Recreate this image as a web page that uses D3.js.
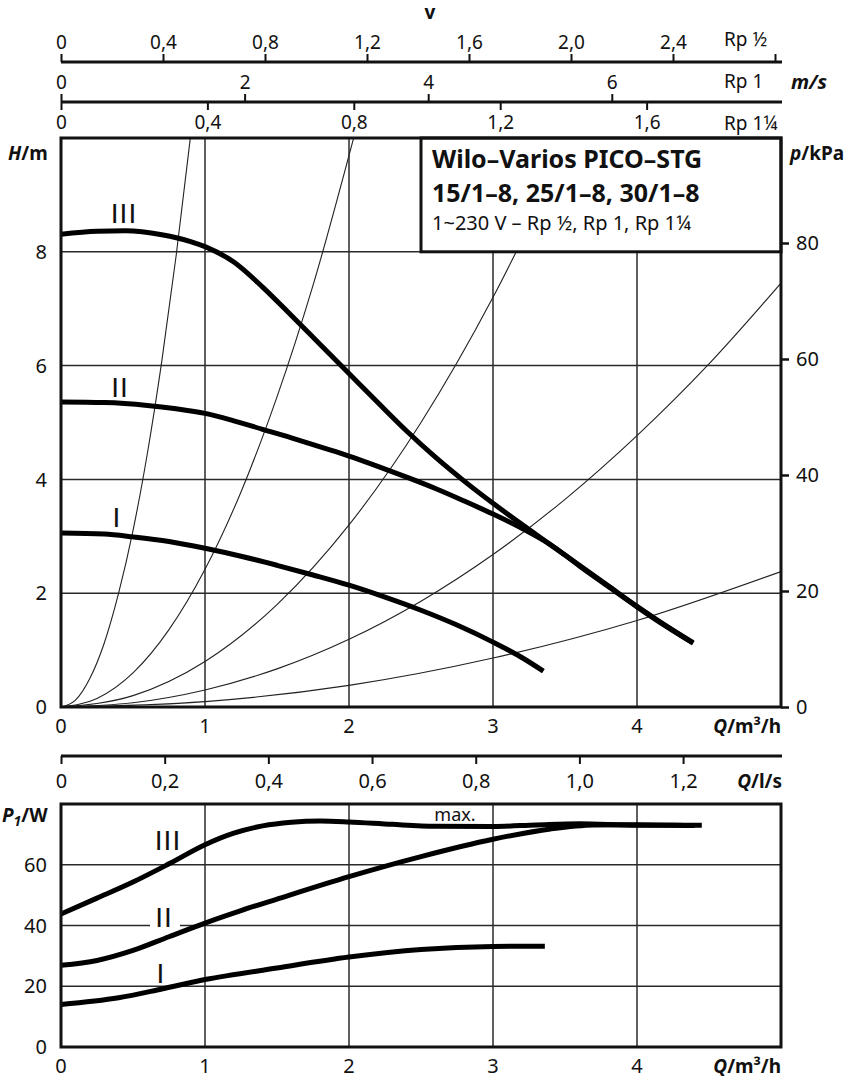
<!DOCTYPE html>
<html>
<head>
<meta charset="utf-8">
<script src="https://cdnjs.cloudflare.com/ajax/libs/d3/7.8.5/d3.min.js"></script>
<style>
  html, body { margin: 0; padding: 0; background: #fff; }
  svg { display: block; font-family: "Noto Sans", "Open Sans", sans-serif; }
</style>
</head>
<body>
<svg id="chart" width="851" height="1080"></svg>
<script>
// =========================================
// Data
// =========================================
const qTicks = [0, 1, 2, 3, 4];                 // Q in m³/h
const headTicks = [0, 2, 4, 6, 8];              // H in m
const kpaTicks = [0, 20, 40, 60, 80];           // p in kPa
const powerTicks = [0, 20, 40, 60];             // P1 in W
const qLsTicks = [0, 0.2, 0.4, 0.6, 0.8, 1.0, 1.2];
const vRpHalfTicks = [0, 0.4, 0.8, 1.2, 1.6, 2.0, 2.4, 2.8];
const vRpHalfLabels = [0, 0.4, 0.8, 1.2, 1.6, 2.0, 2.4];
const vRp1Ticks = [0, 2, 4, 6];
const vRp114Ticks = [0, 0.4, 0.8, 1.2, 1.6];

// pump head curves [Q, H]
const headIII = [[0, 8.31], [0.25, 8.36], [0.45, 8.37], [0.7, 8.30], [0.9, 8.18], [1.0, 8.09],
  [1.2, 7.82], [1.4, 7.38], [1.6, 6.88], [1.8, 6.37], [2.0, 5.86], [2.2, 5.35], [2.4, 4.85],
  [2.6, 4.39], [2.8, 3.97], [3.0, 3.58], [3.2, 3.21], [3.4, 2.85], [3.6, 2.49], [3.8, 2.13],
  [4.0, 1.77], [4.2, 1.43], [4.39, 1.13]];
const headII = [[0, 5.36], [0.3, 5.35], [0.6, 5.30], [0.8, 5.24], [1.0, 5.16], [1.2, 5.03],
  [1.4, 4.88], [1.6, 4.73], [1.8, 4.57], [2.0, 4.41], [2.2, 4.23], [2.4, 4.04], [2.6, 3.84],
  [2.8, 3.62], [3.0, 3.39], [3.2, 3.14], [3.4, 2.85], [3.5, 2.67], [3.6, 2.48], [3.8, 2.12],
  [4.0, 1.76], [4.2, 1.42], [4.39, 1.12]];
const headI = [[0, 3.06], [0.3, 3.04], [0.5, 2.99], [0.75, 2.91], [1.0, 2.79], [1.25, 2.65],
  [1.5, 2.49], [1.75, 2.32], [2.0, 2.14], [2.25, 1.93], [2.5, 1.70], [2.75, 1.44], [3.0, 1.14],
  [3.2, 0.87], [3.35, 0.63]];

// system (pipe) curves [Q, H]
const systemA = [[0, 0], [0.1, 0.12], [0.2, 0.5], [0.3, 1.12], [0.4, 2.0], [0.5, 3.1],
  [0.6, 4.46], [0.7, 6.08], [0.8, 7.94], [0.9, 10.04]];
const systemB = [[0, 0], [0.25, 0.15], [0.5, 0.6], [0.75, 1.36], [1.0, 2.42], [1.25, 3.78],
  [1.5, 5.45], [1.75, 7.41], [2.05, 10.17]];
const systemC = [[0, 0], [0.5, 0.2], [1.0, 0.8], [1.5, 1.8], [2.0, 3.2], [2.5, 5.0],
  [3.0, 7.2], [3.3, 8.71]];
const systemD = [[0, 0], [0.5, 0.075], [1.0, 0.3], [1.5, 0.67], [2.0, 1.19], [2.5, 1.86],
  [3.0, 2.68], [3.5, 3.65], [4.0, 4.77], [4.5, 6.03], [5.0, 7.45]];
const systemE = [[0, 0], [1.0, 0.095], [2.0, 0.38], [3.0, 0.86], [4.0, 1.52], [5.0, 2.38]];

// power curves [Q, P1]
const powerIII = [[0, 43.8], [0.25, 49.0], [0.5, 54.3], [0.75, 60.3], [1.0, 66.6], [1.2, 70.4],
  [1.4, 72.8], [1.6, 74.0], [1.8, 74.4], [2.0, 74.1], [2.3, 73.3], [2.6, 72.7], [3.0, 72.6],
  [3.3, 73.1], [3.6, 73.5], [4.0, 73.0], [4.45, 73.0]];
const powerII = [[0, 26.9], [0.25, 28.5], [0.5, 31.8], [0.75, 36.3], [1.0, 40.8], [1.25, 44.9],
  [1.5, 48.7], [2.0, 56.1], [2.5, 62.7], [3.0, 68.4], [3.4, 71.8], [3.7, 73.1], [4.0, 73.2], [4.4, 72.9]];
const powerI = [[0, 14.0], [0.4, 16.2], [0.7, 19.1], [1.0, 22.2], [1.5, 26.0], [2.0, 29.6],
  [2.5, 32.1], [3.0, 33.1], [3.36, 33.2]];

const titleLines = ['Wilo–Varios PICO–STG', '15/1–8, 25/1–8, 30/1–8', '1~230 V – Rp ½, Rp 1, Rp 1¼'];

// =========================================
// Layout
// =========================================
const left = 61, right = 781;
const headTop = 138, headBottom = 707;
const powerTop = 804, powerBottom = 1047;
const ink = '#111';
const gridInk = '#2a2a2a';

const svg = d3.select('#chart');

const x = d3.scaleLinear().domain([0, 5]).range([left, right]);
const yH = d3.scaleLinear().domain([0, 10]).range([headBottom, headTop]);
const yKpa = d3.scaleLinear().domain([0, 98.1]).range([headBottom, headTop]);
const yP = d3.scaleLinear().domain([0, 80]).range([powerBottom, powerTop]);
const xLs = d3.scaleLinear().domain([0, 5 / 3.6]).range([left, right]);
const xRpHalf = d3.scaleLinear().domain([0, 720 / 255]).range([left, right]);
const xRp1 = d3.scaleLinear().domain([0, 720 / 91.8]).range([left, right]);
const xRp114 = d3.scaleLinear().domain([0, 720 / 366]).range([left, right]);

const comma = d3.formatLocale({ decimal: ',', thousands: '.', grouping: [3], currency: ['', ''] }).format('.1f');
const fmtDec = d => d === 0 ? '0' : comma(d);

// -----------------------------------------
// velocity axes at the top
// -----------------------------------------
svg.append('text').attr('x', 430).attr('y', 19).attr('text-anchor', 'middle')
  .style('font-size', '19px').style('font-weight', '700').attr('fill', ink).text('v');

const styleAxis = (g, size) => {
  g.select('.domain').attr('stroke', ink).attr('stroke-width', 3);
  g.selectAll('.tick line').attr('stroke', ink).attr('stroke-width', 2);
  g.selectAll('.tick text').attr('fill', ink).style('font-size', size)
    .style('font-family', '"Noto Sans", sans-serif');
};

const axHalf = svg.append('g').attr('transform', 'translate(0,62)')
  .call(d3.axisTop(xRpHalf).tickValues(vRpHalfTicks).tickSize(8).tickSizeOuter(0).tickPadding(5)
    .tickFormat(d => vRpHalfLabels.includes(d) ? fmtDec(d) : ''));
styleAxis(axHalf, '19px');
axHalf.select('.domain').attr('d', `M${left},0H${right + 1}`);

const axRp1 = svg.append('g').attr('transform', 'translate(0,102)')
  .call(d3.axisTop(xRp1).tickValues(vRp1Ticks).tickSize(8).tickSizeOuter(0).tickPadding(5)
    .tickFormat(d3.format('d')));
styleAxis(axRp1, '19px');
axRp1.select('.domain').attr('d', `M${left},0H${right + 1}`);

const axRp114 = svg.append('g').attr('transform', 'translate(0,102)')
  .call(d3.axisBottom(xRp114).tickValues(vRp114Ticks).tickSize(8).tickSizeOuter(0).tickPadding(6)
    .tickFormat(fmtDec));
styleAxis(axRp114, '19px');
axRp114.select('.domain').remove();

const rpLabels = [['Rp ½', 46], ['Rp 1', 88], ['Rp 1¼', 130]];
svg.selectAll('.rp-label').data(rpLabels).enter().append('text')
  .attr('class', 'rp-label').attr('x', 724).attr('y', d => d[1])
  .style('font-size', '19px').attr('fill', ink).text(d => d[0]);

svg.append('text').attr('x', 791).attr('y', 89)
  .style('font-size', '20px').style('font-weight', '700').style('font-style', 'italic')
  .attr('fill', ink).text('m/s');

// -----------------------------------------
// head chart
// -----------------------------------------
svg.append('clipPath').attr('id', 'headClip').append('rect')
  .attr('x', left).attr('y', headTop).attr('width', right - left).attr('height', headBottom - headTop);

svg.append('g').selectAll('line').data(qTicks.slice(1)).enter().append('line')
  .attr('x1', d => x(d)).attr('x2', d => x(d)).attr('y1', headTop).attr('y2', headBottom)
  .attr('stroke', gridInk).attr('stroke-width', 1.5);
svg.append('g').selectAll('line').data(headTicks.slice(1)).enter().append('line')
  .attr('x1', left).attr('x2', right).attr('y1', d => yH(d)).attr('y2', d => yH(d))
  .attr('stroke', gridInk).attr('stroke-width', 1.5);

const headLine = d3.line().x(d => x(d[0])).y(d => yH(d[1])).curve(d3.curveMonotoneX);

svg.append('g').attr('clip-path', 'url(#headClip)')
  .selectAll('path').data([systemA, systemB, systemC, systemD, systemE]).enter().append('path')
  .attr('d', headLine).attr('fill', 'none').attr('stroke', '#222').attr('stroke-width', 1.1);

// title box
svg.append('rect').attr('x', 421).attr('y', headTop).attr('width', right - 421).attr('height', yH(8) - headTop)
  .attr('fill', '#fff').attr('stroke', ink).attr('stroke-width', 3);

svg.selectAll('.title-line').data(titleLines).enter().append('text')
  .attr('class', 'title-line').attr('x', 432).attr('y', (d, i) => [168, 202, 230][i])
  .style('font-size', (d, i) => i < 2 ? '25px' : '20px')
  .style('font-weight', (d, i) => i < 2 ? '700' : '400')
  .attr('fill', ink).text(d => d);

svg.append('g').selectAll('path').data([headI, headII, headIII]).enter().append('path')
  .attr('d', headLine).attr('fill', 'none').attr('stroke', '#000').attr('stroke-width', 5);

svg.append('rect').attr('x', left).attr('y', headTop).attr('width', right - left).attr('height', headBottom - headTop)
  .attr('fill', 'none').attr('stroke', ink).attr('stroke-width', 3);

// left H labels
svg.append('g').selectAll('text').data(headTicks).enter().append('text')
  .attr('x', 47).attr('y', d => yH(d)).attr('dy', '0.36em').attr('text-anchor', 'end')
  .style('font-size', '20px').attr('fill', ink).text(d => d);

// right kPa axis
const axKpa = svg.append('g').attr('transform', `translate(${right},0)`)
  .call(d3.axisRight(yKpa).tickValues(kpaTicks).tickSize(8).tickPadding(7).tickSizeOuter(0));
axKpa.select('.domain').remove();
axKpa.selectAll('.tick line').attr('stroke', ink).attr('stroke-width', 2.5);
axKpa.selectAll('.tick text').attr('fill', ink).style('font-size', '20px')
  .style('font-family', '"Noto Sans", sans-serif');

// Q labels under head chart
svg.append('g').selectAll('text').data(qTicks).enter().append('text')
  .attr('x', d => x(d)).attr('y', 733).attr('text-anchor', 'middle')
  .style('font-size', '20px').attr('fill', ink).text(d => d);

// axis titles
const axisTitle = (xx, yy, anchor, parts) => {
  const t = svg.append('text').attr('x', xx).attr('y', yy).attr('text-anchor', anchor)
    .style('font-size', '19px').style('font-weight', '700').attr('fill', ink);
  parts.forEach(p => {
    const s = t.append('tspan').text(p.t);
    if (p.i) s.style('font-style', 'italic');
    if (p.sub) s.style('font-size', '14px').attr('dy', 4);
    if (p.up) s.attr('dy', -4);
  });
  return t;
};
axisTitle(8, 160, 'start', [{ t: 'H', i: true }, { t: '/m' }]);
axisTitle(790, 160, 'start', [{ t: 'p', i: true }, { t: '/kPa' }]);
axisTitle(781, 733, 'end', [{ t: 'Q', i: true }, { t: '/m³/h' }]);

// curve names (drawn as plain sans strokes)
const nameFont = '"Liberation Sans", "DejaVu Sans", sans-serif';
const headNames = [['III', 124, 223], ['II', 120, 397], ['I', 117, 527]];
svg.selectAll('.head-name').data(headNames).enter().append('text')
  .attr('class', 'head-name').attr('x', d => d[1]).attr('y', d => d[2]).attr('text-anchor', 'middle')
  .style('font-family', nameFont).style('font-size', '28px').style('font-weight', '400')
  .style('letter-spacing', '1px')
  .attr('fill', ink).text(d => d[0]);

// -----------------------------------------
// l/s axis
// -----------------------------------------
const axLs = svg.append('g').attr('transform', 'translate(0,756)')
  .call(d3.axisBottom(xLs).tickValues(qLsTicks).tickSize(8).tickSizeOuter(0).tickPadding(10)
    .tickFormat(fmtDec));
styleAxis(axLs, '20px');
axLs.select('.domain').attr('d', `M${left},0H${right + 1}`);
axisTitle(782, 788, 'end', [{ t: 'Q', i: true }, { t: '/l/s' }]);

// -----------------------------------------
// power chart
// -----------------------------------------
svg.append('g').selectAll('line').data(qTicks.slice(1)).enter().append('line')
  .attr('x1', d => x(d)).attr('x2', d => x(d)).attr('y1', powerTop).attr('y2', powerBottom)
  .attr('stroke', gridInk).attr('stroke-width', 1.5);
svg.append('g').selectAll('line').data(powerTicks.slice(1)).enter().append('line')
  .attr('x1', left).attr('x2', right).attr('y1', d => yP(d)).attr('y2', d => yP(d))
  .attr('stroke', gridInk).attr('stroke-width', 1.5);

const powerLine = d3.line().x(d => x(d[0])).y(d => yP(d[1])).curve(d3.curveMonotoneX);
svg.append('g').selectAll('path').data([powerI, powerII, powerIII]).enter().append('path')
  .attr('d', powerLine).attr('fill', 'none').attr('stroke', '#000').attr('stroke-width', 5);

svg.append('rect').attr('x', left).attr('y', powerTop).attr('width', right - left).attr('height', powerBottom - powerTop)
  .attr('fill', 'none').attr('stroke', ink).attr('stroke-width', 3);

svg.append('g').selectAll('text').data(powerTicks).enter().append('text')
  .attr('x', 47).attr('y', d => yP(d)).attr('dy', '0.36em').attr('text-anchor', 'end')
  .style('font-size', '20px').attr('fill', ink).text(d => d);

svg.append('g').selectAll('text').data(qTicks).enter().append('text')
  .attr('x', d => x(d)).attr('y', 1073).attr('text-anchor', 'middle')
  .style('font-size', '20px').attr('fill', ink).text(d => d);

axisTitle(781, 1073, 'end', [{ t: 'Q', i: true }, { t: '/m³/h' }]);
axisTitle(2, 822, 'start', [{ t: 'P', i: true }, { t: '1', i: true, sub: true }, { t: '/W', up: true }]);

svg.append('text').attr('x', 455).attr('y', 821).attr('text-anchor', 'middle')
  .style('font-size', '18px').attr('fill', ink).text('max.');

// label II sits on the 40 W grid line
svg.append('rect').attr('x', 150).attr('y', yP(40) - 3).attr('width', 30).attr('height', 6).attr('fill', '#fff');

const powerNames = [['III', 168, 850], ['II', 164, 927], ['I', 161, 983]];
svg.selectAll('.power-name').data(powerNames).enter().append('text')
  .attr('class', 'power-name').attr('x', d => d[1]).attr('y', d => d[2]).attr('text-anchor', 'middle')
  .style('font-family', nameFont).style('font-size', '28px').style('font-weight', '400')
  .style('letter-spacing', '1px')
  .attr('fill', ink).text(d => d[0]);
</script>
</body>
</html>
